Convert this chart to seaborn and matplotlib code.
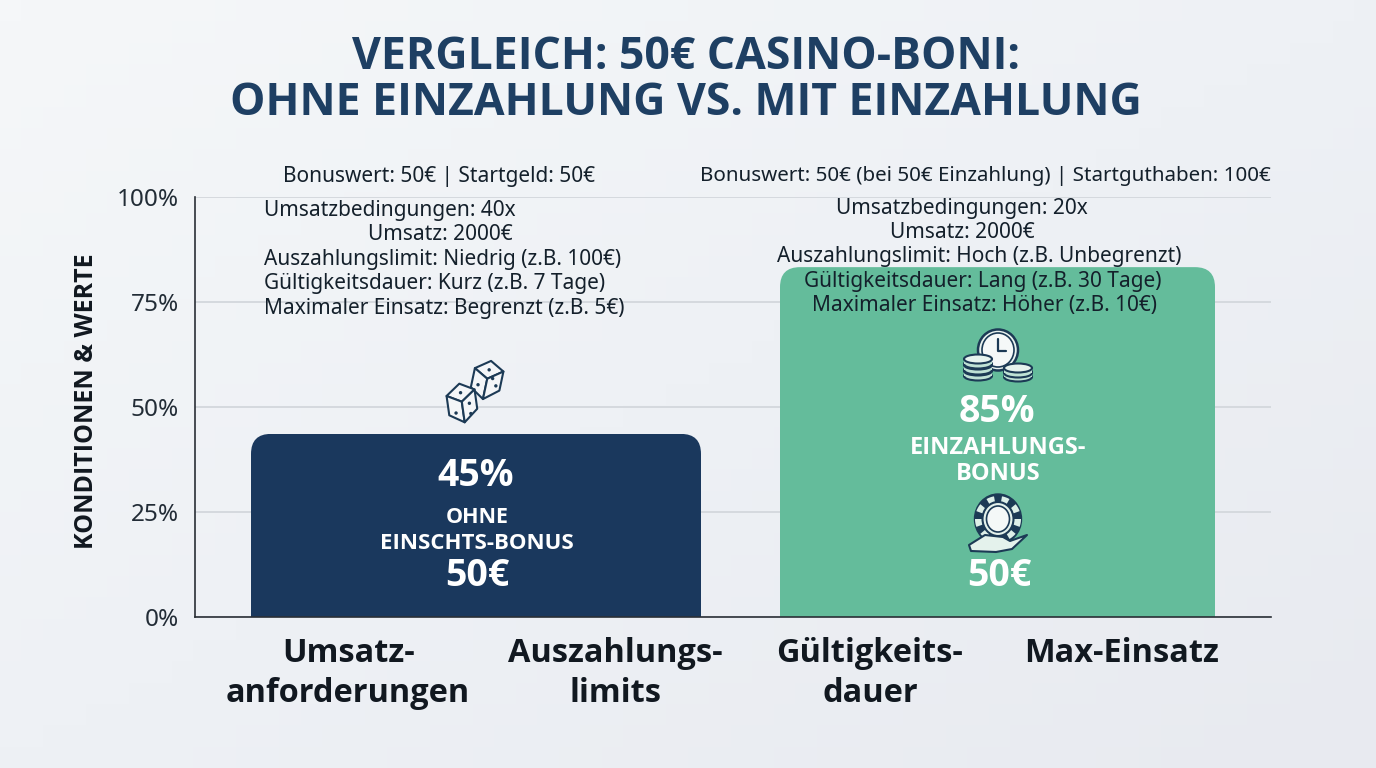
import numpy as np
import pandas as pd
import seaborn as sns
import matplotlib
matplotlib.use("Agg")
import matplotlib.pyplot as plt
from matplotlib.patches import FancyBboxPatch, Polygon, Circle, Ellipse, Wedge, Rectangle
from matplotlib.colors import LinearSegmentedColormap

# ---- data ----
title_lines = ["VERGLEICH: 50€ CASINO-BONI:", "OHNE EINZAHLUNG VS. MIT EINZAHLUNG"]
groups = ["Ohne Einzahlung", "Mit Einzahlung"]
group_pos = [0.5, 2.5]
group_values = [43.6, 83.3]
y_ticks = [0, 25, 50, 75, 100]
y_label = "KONDITIONEN & WERTE"
head_left = "Bonuswert: 50€ | Startgeld: 50€"
head_right = "Bonuswert: 50€ (bei 50€ Einzahlung) | Startguthaben: 100€"
lines_left = ["Umsatzbedingungen: 40x", "Umsatz: 2000€", "Auszahlungslimit: Niedrig (z.B. 100€)",
              "Gültigkeitsdauer: Kurz (z.B. 7 Tage)", "Maximaler Einsatz: Begrenzt (z.B. 5€)"]
lines_right = ["Umsatzbedingungen: 20x", "Umsatz: 2000€", "Auszahlungslimit: Hoch (z.B. Unbegrenzt)",
               "Gültigkeitsdauer: Lang (z.B. 30 Tage)", "Maximaler Einsatz: Höher (z.B. 10€)"]
category_lines = ["Umsatz-", "anforderungen", "Auszahlungs-", "limits", "Gültigkeits-", "dauer", "Max-Einsatz"]

NAVY, GREEN, DARK, INK = "#1A385D", "#64BC9B", "#1E3F63", "#14202B"
W, H = 1376, 768
sns.set_theme(style="white")
plt.rcParams["font.family"] = ["Noto Sans", "DejaVu Sans"]
BOLD = ["Open Sans", "DejaVu Sans"]

fig = plt.figure(figsize=(W / 100, H / 100), dpi=100)

# background
bg = fig.add_axes([0, 0, 1, 1], zorder=0)
cm = LinearSegmentedColormap.from_list("bg", ["#F5F7F9", "#EEF1F5", "#E8EAF0"])
xx, yy = np.meshgrid(np.linspace(0, 1, 64), np.linspace(0, 1, 36))
bg.imshow(0.5 * xx + 0.5 * yy, cmap=cm, aspect="auto", extent=(0, 1, 1, 0))
bg.axis("off")

# main chart
L, R, T, B = 195, 1271, 197, 617
ax = fig.add_axes([L / W, 1 - B / H, (R - L) / W, (B - T) / H], zorder=1)
ax.patch.set_alpha(0)
df = pd.DataFrame({"pos": group_pos, "value": group_values, "group": groups})
sns.barplot(data=df, x="pos", y="value", hue="group", palette=[NAVY, GREEN], saturation=1,
            native_scale=True, dodge=False, legend=False, ax=ax, zorder=2)
xmin, xmax = -0.6, 3.57
ax.set_xlim(xmin, xmax)
ax.set_ylim(0, 100)
ux = (R - L) / (xmax - xmin)   # px per x unit
uy = (B - T) / 100             # px per y unit

bar_px = [(251, 701), (780, 1215)]
bars = sorted([p for p in ax.patches if p.get_height() > 0], key=lambda p: p.get_x())
for p, (a, b) in zip(bars, bar_px):
    x0 = xmin + (a - L) / ux
    wd = (b - a) / ux
    p.set_x(x0)
    p.set_width(wd)
    p.set_edgecolor("none")
    r = 20 / ux
    ry = r * ux / uy
    # rounded shape runs below the axis so that only the top corners round off
    clip = FancyBboxPatch((x0 + r, -40), wd - 2 * r, p.get_height() + 40 - ry,
                          boxstyle=f"round,pad={r},rounding_size={r}", mutation_aspect=ux / uy,
                          transform=ax.transData, fc="none", ec="none")
    ax.add_patch(clip)
    clip.set_visible(False)
    p.set_clip_path(clip)

ax.set_yticks(y_ticks)
ax.set_yticklabels([f"{v}%" for v in y_ticks], fontsize=17.5, color="#222C36")
ax.set_xticks([0, 1, 2, 3])
ax.set_xticklabels([])
ax.set_xlabel("")
ax.set_ylabel("")
ax.tick_params(axis="both", length=0, pad=11.5)
ax.yaxis.grid(True, color="#D3D7DC", lw=1.3, zorder=0)
ax.set_axisbelow(True)
for s in ("top", "right"):
    ax.spines[s].set_visible(False)
for s in ("left", "bottom"):
    ax.spines[s].set_color("#2A2F36")
    ax.spines[s].set_linewidth(1.2)

# overlay in reference pixels
ov = fig.add_axes([0, 0, 1, 1], zorder=3)
ov.set_xlim(0, W)
ov.set_ylim(H, 0)
ov.axis("off")

def T_(x, y, s, size, color=INK, weight="normal", **kw):
    kw.setdefault("ha", "center")
    if weight == "bold":
        kw.setdefault("family", BOLD)
    ov.text(x, y + 1.5, s, fontsize=size, color=color, fontweight=weight, va="center", **kw)

T_(686, 56, title_lines[0], 32, DARK, "bold")
T_(686, 102, title_lines[1], 32, DARK, "bold")
T_(87, 400, y_label, 18, "#111820", "bold", rotation=90)

T_(439, 175, head_left, 15)
T_(985, 175, head_right, 14.8)

for y, s in zip([209, 233, 258, 282, 307], lines_left):
    if s.startswith("Umsatz:"):
        T_(513, y, s, 15, ha="right")
    else:
        T_(264, y, s, 15, ha="left")
for y, s, x in zip([207, 231, 255, 280, 304], lines_right, [962, 962, 979, 983, 984]):
    T_(x, y, s, 15)

for x, y, s in zip([349, 348, 615, 615, 870, 870, 1122], [652, 692, 652, 692, 652, 692, 652], category_lines):
    T_(x, y, s, 23.4, "#111820", "bold")

T_(476, 474, "45%", 27, "white", "bold")
T_(477, 516, "OHNE", 15.5, "white", "bold")
T_(477, 542, "EINSCHTS-BONUS", 16, "white", "bold")
T_(477, 575, "50€", 27, "white", "bold")
T_(997, 410, "85%", 27, "white", "bold")
T_(998, 446, "EINZAHLUNGS-", 17, "white", "bold")
T_(998, 473, "BONUS", 17, "white", "bold")
T_(999, 574, "50€", 27, "white", "bold")

# icons
ic = "#1C3A55"
def die(cx, cy, s, rot, pips):
    t = np.deg2rad(rot)
    R_ = np.array([[np.cos(t), -np.sin(t)], [np.sin(t), np.cos(t)]])
    def P(pts):
        return np.array(pts) @ R_.T * s + [cx, cy]
    top = [(-.55, -.35), (0, -.75), (.55, -.45), (0, -.05)]
    left = [(-.55, -.35), (0, -.05), (0, .75), (-.55, .4)]
    right = [(0, -.05), (.55, -.45), (.55, .3), (0, .75)]
    for f in (top, left, right):
        ov.add_patch(Polygon(P(f), closed=True, fc="#F4F6F8", ec=ic, lw=1.5, joinstyle="round"))
    for q in pips:
        c = P([q])[0]
        ov.add_patch(Circle(c, 1.7, fc=ic, ec="none"))

die(487, 380, 26, 12, [(0, -.4), (-.3, .25), (.2, -.1), (.38, .15)])
die(462, 403, 26, -8, [(0, -.4), (-.28, .35), (.28, .05), (.28, .45)])

# clock + coins
ov.add_patch(Ellipse((998, 350), 40, 41, fc="#EAF3F0", ec=ic, lw=1.8))
ov.add_patch(Ellipse((998, 350), 32, 34, fc="#F5F8F8", ec=ic, lw=1.2))
ov.plot([998, 998, 1006], [339, 351, 351], color=ic, lw=1.6)
for cx, ys, w in [(978, [373, 367, 361], 28), (1018, [374, 370], 28)]:
    for y in ys:
        ov.add_patch(Ellipse((cx, y + 3), w, 9, fc="#BFE2D5", ec=ic, lw=1.5))
        ov.add_patch(Rectangle((cx - w / 2, y - 2), w, 5, fc="#BFE2D5", ec="none"))
        ov.add_patch(Ellipse((cx, y - 2), w, 9, fc="#E6F3EE", ec=ic, lw=1.5))

# chip + hand
ov.add_patch(Ellipse((998, 519), 47, 50, fc=ic, ec=ic, lw=1))
for a in np.arange(0, 360, 40):
    ov.add_patch(Wedge((998, 519), 23, a, a + 20, width=7, fc="#DDEFE8", ec="none"))
ov.add_patch(Ellipse((998, 519), 31, 34, fc="#E4F2EC", ec=ic, lw=1.5))
ov.add_patch(Ellipse((998, 519), 23, 26, fc="#F4F8F7", ec=ic, lw=1.2))
ov.add_patch(Polygon([(969, 545), (985, 535), (1003, 537), (1010, 541), (1027, 535), (1012, 549),
                      (996, 552), (971, 551)], closed=True, fc="#E4F2EC", ec=ic, lw=1.5,
                     joinstyle="round"))

fig.savefig("out.png", dpi=100)
